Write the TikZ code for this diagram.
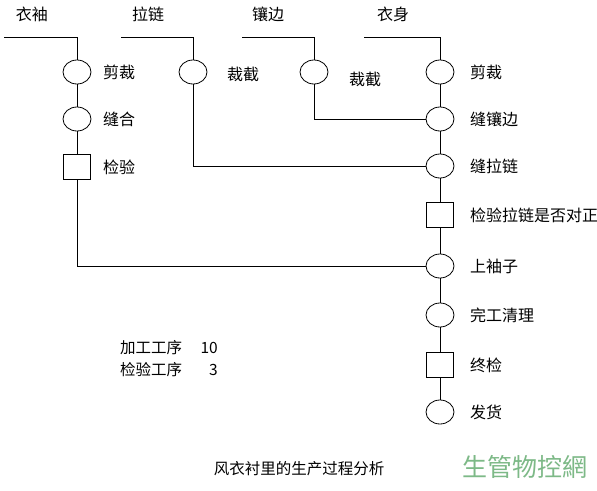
\documentclass[tikz,border=0pt]{standalone}
\usepackage{fontspec}
\setmainfont{Noto Sans CJK SC}
\usetikzlibrary{shapes.geometric}
\definecolor{wmgreen}{RGB}{125,185,135}
\begin{document}
\begin{tikzpicture}[x=1pt,y=-1pt,
  op/.style={draw, ellipse, minimum width=28pt, minimum height=24pt, inner sep=0pt},
  chk/.style={draw, rectangle, minimum width=27pt, minimum height=25pt, inner sep=0pt},
  lbl/.style={anchor=west, font=\fontsize{16}{16}\selectfont, inner sep=0pt},
  sml/.style={anchor=west, font=\fontsize{15.5}{15.5}\selectfont, inner sep=0pt},
  top/.style={font=\fontsize{16}{16}\selectfont, inner sep=0pt},
  ln/.style={line width=0.8pt}]
\useasboundingbox[fill=white] (0,0) rectangle (597,490);
\begin{scope}[every node/.append style={line width=0.8pt}]
\node[op] (a1) at (77,72) {};
\node[op] (a2) at (77,119) {};
\node[chk] (a3) at (77,167) {};
\node[op] (b1) at (193,72) {};
\node[op] (c1) at (314,72) {};
\node[op] (d1) at (440,72) {};
\node[op] (d2) at (440,119) {};
\node[op] (d3) at (440,166) {};
\node[chk] (d4) at (440,215) {};
\node[op] (d5) at (440,266) {};
\node[op] (d6) at (440,315) {};
\node[chk] (d7) at (440,365) {};
\node[op] (d8) at (440,412) {};
\end{scope}
\coordinate (a0) at (4,37);
\coordinate (b0) at (121,37);
\coordinate (c0) at (242,37);
\coordinate (d0) at (364,37);
\draw[ln] (a0) -| (a1.north);
\draw[ln] (b0) -| (b1.north);
\draw[ln] (c0) -| (c1.north);
\draw[ln] (d0) -| (d1.north);
\draw[ln] (a1) -- (a2) -- (a3);
\draw[ln] (a3.south) |- (d5.west);
\draw[ln] (b1.south) |- (d3.west);
\draw[ln] (c1.south) |- (d2.west);
\draw[ln] (d1) -- (d2) -- (d3) -- (d4) -- (d5) -- (d6) -- (d7) -- (d8);
% top labels
\node[top] (t1) at (32,14) {衣袖};
\node[top] (t2) at (148,14) {拉链};
\node[top] (t3) at (268,14) {镶边};
\node[top] (t4) at (393,14) {衣身};
% side labels
\node[lbl] (la1) at (103,72) {剪裁};
\node[lbl] (la2) at (103,119) {缝合};
\node[lbl] (la3) at (103,167) {检验};
\node[lbl] (lb1) at (227,74) {裁截};
\node[lbl] (lc1) at (349,79) {裁截};
\node[lbl] (ld1) at (470,72) {剪裁};
\node[lbl] (ld2) at (470,119) {缝镶边};
\node[lbl] (ld3) at (470,166) {缝拉链};
\node[lbl] (ld4) at (470,215) {检验拉链是否对正};
\node[lbl] (ld5) at (470,266) {上袖子};
\node[lbl] (ld6) at (470,315) {完工清理};
\node[lbl] (ld7) at (470,365) {终检};
\node[lbl] (ld8) at (470,412) {发货};
% summary
\node[sml] (s1) at (120,348) {加工工序};
\node[sml,anchor=east] (s1n) at (218,348) {10};
\node[sml] (s2) at (120,370) {检验工序};
\node[sml,anchor=east] (s2n) at (218,370) {3};
% title
\node[font=\fontsize{15.5}{15.5}\selectfont, inner sep=0pt] (title) at (299,469) {风衣衬里的生产过程分析};
\node[font=\fontsize{25}{25}\selectfont, text=wmgreen, inner sep=0pt] (wm) at (525,467) {生管物控網};
\end{tikzpicture}
\end{document}
